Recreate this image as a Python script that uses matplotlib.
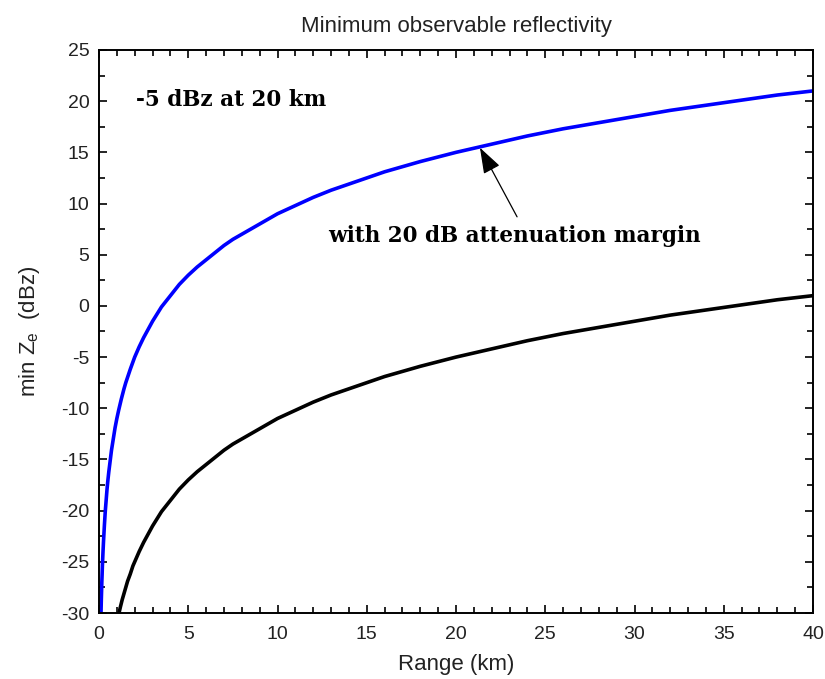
import matplotlib
matplotlib.use("Agg")
import matplotlib.pyplot as plt
from matplotlib.ticker import MultipleLocator

# Data (range in km, min Ze in dBz)
range_black = [1.12, 1.2, 1.3, 1.4, 1.5, 1.6, 1.75, 1.9, 2, 2.25, 2.5, 2.75, 3, 3.5, 4, 4.5, 5,
               5.5, 6, 6.5, 7, 7.5, 8, 9, 10, 11, 12, 13, 14, 15, 16, 17, 18, 19, 20,
               22, 24, 26, 28, 30, 32, 34, 36, 38, 40]
ze_black = [-30.0, -29.4, -28.7, -28.1, -27.5, -26.9, -26.2, -25.4, -25.0, -24.0, -23.1, -22.3,
            -21.5, -20.1, -19.0, -17.9, -17.0, -16.2, -15.5, -14.8, -14.1, -13.5, -13.0, -12.0,
            -11.0, -10.2, -9.4, -8.7, -8.1, -7.5, -6.9, -6.4, -5.9, -5.45, -5.0,
            -4.2, -3.4, -2.7, -2.1, -1.5, -0.9, -0.4, 0.1, 0.6, 1.0]

range_blue = [0.112, 0.12, 0.13, 0.14, 0.15, 0.16, 0.175, 0.19, 0.2, 0.225, 0.25, 0.275, 0.3,
              0.35, 0.4, 0.45, 0.5, 0.55, 0.6, 0.65, 0.7, 0.8, 0.9, 1.0, 1.1, 1.25, 1.4, 1.5,
              1.75, 2, 2.25, 2.5, 2.75, 3, 3.5, 4, 4.5, 5, 5.5, 6, 6.5, 7, 7.5, 8, 9, 10, 11,
              12, 13, 14, 15, 16, 17, 18, 19, 20, 22, 24, 26, 28, 30, 32, 34, 36, 38, 40]
ze_blue = [-30.0, -29.4, -28.7, -28.1, -27.5, -26.9, -26.2, -25.4, -25.0, -24.0, -23.1, -22.3,
           -21.5, -20.1, -19.0, -17.9, -17.0, -16.2, -15.5, -14.8, -14.1, -13.0, -11.9, -11.0,
           -10.2, -9.1, -8.1, -7.5, -6.2, -5.0, -4.0, -3.1, -2.3, -1.5, -0.1, 1.0, 2.1, 3.0,
           3.8, 4.5, 5.2, 5.9, 6.5, 7.0, 8.0, 9.0, 9.8, 10.6, 11.3, 11.9, 12.5, 13.1, 13.6,
           14.1, 14.55, 15.0, 15.8, 16.6, 17.3, 17.9, 18.5, 19.1, 19.6, 20.1, 20.6, 21.0]

title = "Minimum observable reflectivity"
xlabel = "Range (km)"
ylabel = r"min Z$_\mathregular{e}$  (dBz)"
note_text = "-5 dBz at 20 km"
arrow_text = "with 20 dB attenuation margin"

plt.rcParams['font.family'] = ['Liberation Sans', 'DejaVu Sans']
plt.rcParams['axes.unicode_minus'] = False
fig = plt.figure(figsize=(8.25, 6.79), dpi=100)
ax = fig.add_axes([0.12, 0.0972, 0.8655, 0.8292])

ax.plot(range_blue, ze_blue, color='#0000ff', lw=2.6, solid_joinstyle='round')
ax.plot(range_black, ze_black, color='black', lw=2.6, solid_joinstyle='round')

ax.set_xlim(0, 40)
ax.set_ylim(-30, 25)
ax.xaxis.set_major_locator(MultipleLocator(5))
ax.xaxis.set_minor_locator(MultipleLocator(1))
ax.yaxis.set_major_locator(MultipleLocator(5))
ax.yaxis.set_minor_locator(MultipleLocator(2.5))
ax.tick_params(which='both', direction='in', top=True, right=True, labelsize=14,
               labelcolor='#222222')
ax.tick_params(axis='x', pad=9)
ax.tick_params(axis='y', pad=7)
ax.tick_params(which='major', length=6, width=1.2)
ax.tick_params(which='minor', length=4, width=1.2)
for s in ax.spines.values():
    s.set_linewidth(1.4)

ax.set_title(title, fontsize=16, pad=13, color='#222222')
ax.set_xlabel(xlabel, fontsize=16, labelpad=8, color='#222222')
ax.set_ylabel(ylabel, fontsize=16, labelpad=14, color='#222222')

ax.text(2.1, 20.1, note_text, fontsize=15.5, fontweight='bold', family='DejaVu Serif',
        ha='left', va='center')
ax.text(23.3, 6.85, arrow_text, fontsize=15.5, fontweight='bold', family='DejaVu Serif',
        ha='center', va='center')
ax.annotate("", xy=(21.34, 15.45), xytext=(23.42, 8.7),
            arrowprops=dict(arrowstyle='-|>,head_length=0.8,head_width=0.28', color='black',
                            lw=0.9, mutation_scale=20, shrinkA=0, shrinkB=0))

fig.savefig("out.png", dpi=100)
